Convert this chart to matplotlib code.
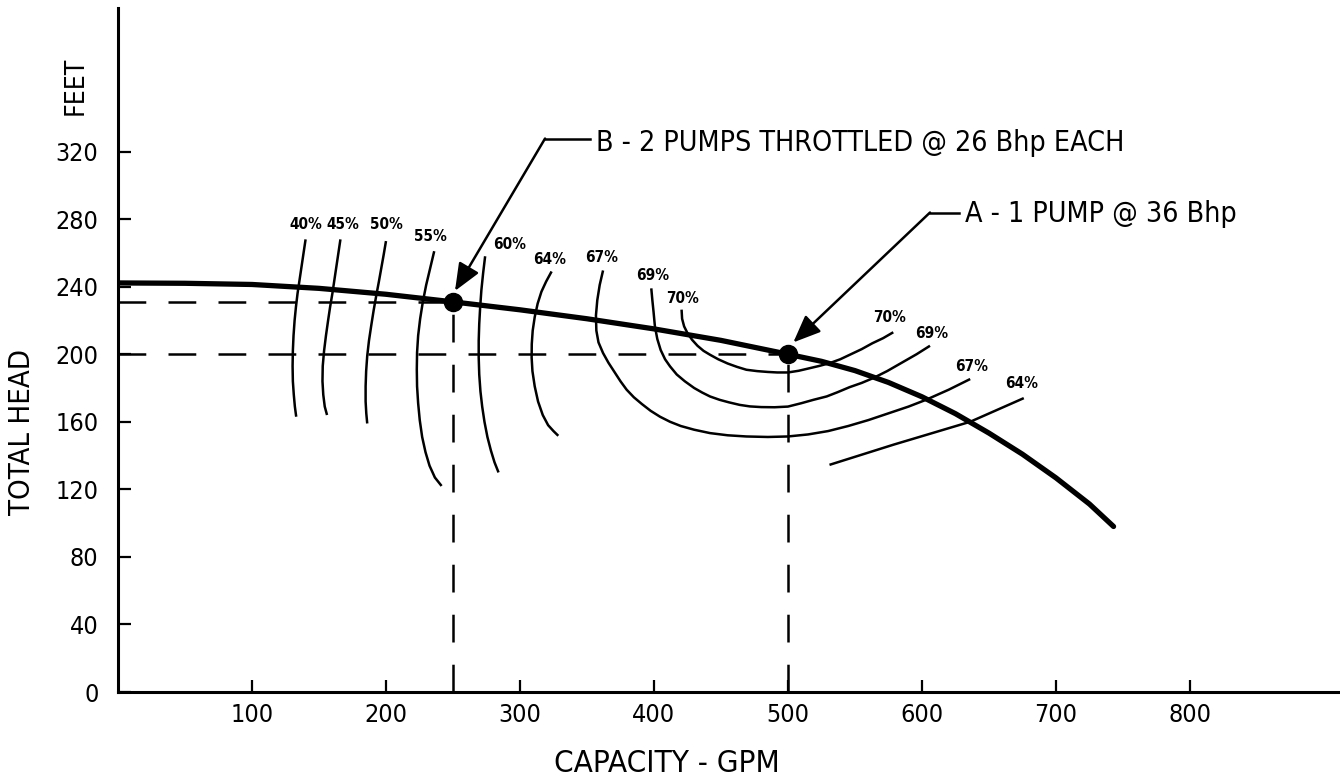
import matplotlib.pyplot as plt

plt.rcParams['lines.scale_dashes'] = False
plt.rcParams['font.family'] = ['DejaVu Sans']
plt.rcParams['font.stretch'] = 'condensed'

# pump head curve
capacity = [0, 50, 100, 150, 200, 250, 300, 350, 400, 450, 500, 525, 550, 575, 600, 625,
            650, 675, 700, 725, 743]
total_head = [242.2, 242, 241.3, 239, 235.5, 231, 226.3, 221, 215, 208.2, 200, 195.8,
              190.3, 183.3, 174.8, 164.8, 153.3, 140.8, 126.8, 111.3, 98]

# operating points
point_b = (250, 231)
point_a = (500, 200)

# iso-efficiency curves (capacity, head)
eff_40_x = [140, 138.5, 137, 135.5, 134, 132.8, 131.8, 131, 130.5, 130.3, 130.5, 131.2, 132, 133]
eff_40_y = [268, 260, 252, 244, 236, 228, 220, 211, 202, 193, 184, 176, 169, 163]
eff_45_x = [166, 164.5, 163, 161.5, 160, 158.3, 156.8, 155.2, 153.8, 152.8, 152.6, 153.2,
            154.3, 156]
eff_45_y = [268, 260, 252, 244, 236, 228, 220, 211, 202, 193, 184, 176, 169, 164]
eff_50_x = [200, 198.3, 196.5, 194.7, 192.8, 190.8, 189, 187.3, 186, 185.2, 184.8, 184.8,
            185.3, 186]
eff_50_y = [267, 259, 251, 243, 235, 226, 217, 208, 199, 190, 181, 172, 165, 159]
eff_55_x = [236, 233, 230, 227.5, 225.5, 224, 223.2, 223, 223.2, 224, 225.2, 227, 229.5,
            232.5, 236.5, 241.5]
eff_55_y = [261, 251, 241, 231, 221, 211, 201, 191, 181, 171, 161, 151, 142, 134, 127, 122]
eff_60_x = [274, 272.5, 271.2, 270.3, 269.6, 269.2, 269.2, 269.6, 270.5, 271.8, 273.5,
            275.7, 278.3, 281, 284]
eff_60_y = [258, 248, 238, 228, 218, 208, 198, 188, 178, 169, 160, 151, 143, 136, 130]
eff_64_x = [323.6, 319.5, 316, 313.2, 311, 309.5, 308.8, 308.7, 309.3, 311, 313.5, 317,
            321, 325, 328.6]
eff_64_y = [249, 243, 237, 230, 222, 214, 206, 198, 190, 181, 172, 164, 158, 154.5, 151.7]
eff_67_x = [362, 359.5, 357.7, 356.7, 357, 358.6, 362, 366, 370.5, 375, 379.6, 385, 391,
            397.5, 404.5, 412, 420, 430, 441.8, 455, 469, 485, 500, 515, 530, 545, 560,
            575, 590, 603, 620, 636]
eff_67_y = [249.6, 241, 232, 223, 214, 207, 200.7, 195, 189.5, 184, 179, 174.5, 170.5,
            166.5, 163, 160, 157.5, 155.3, 153.3, 152, 151.3, 151, 151.3, 152.5, 154.5,
            157.5, 161, 165, 169, 173, 179, 185.3]
eff_69_x = [398, 398.8, 399.7, 400.7, 402.5, 405, 408.3, 412, 417, 423, 430, 436, 441.8,
            449, 456, 464, 471.6, 480, 490, 500, 510, 519, 528.9, 537, 546, 555, 563.7,
            574, 585, 596, 606]
eff_69_y = [239, 232, 225, 216.5, 209, 202.5, 197, 192.8, 188, 184, 180, 177.3, 175, 173,
            171.5, 170, 169.1, 168.7, 168.6, 169, 171, 173, 175, 177.5, 180.5, 183, 185.9,
            190, 195, 200, 205]
eff_70_x = [420.6, 421, 422.5, 425, 428.5, 432.5, 437, 441.8, 448, 455, 462, 469, 477, 485,
            492, 500, 508, 515, 523, 531, 539, 547, 555, 563, 571, 578.6]
eff_70_y = [226.4, 221, 216.5, 212.5, 208.5, 205, 202, 199.7, 197, 194.5, 192.5, 190.8, 190,
            189.5, 189.2, 189.2, 190.2, 191.5, 193, 194.7, 197, 200, 203, 206.5, 209.5, 213]
eff_64r_x = [531, 579, 636, 676]
eff_64r_y = [134.5, 146.5, 160, 174]

eff_curves = [(eff_40_x, eff_40_y), (eff_45_x, eff_45_y), (eff_50_x, eff_50_y),
              (eff_55_x, eff_55_y), (eff_60_x, eff_60_y), (eff_64_x, eff_64_y),
              (eff_67_x, eff_67_y), (eff_69_x, eff_69_y), (eff_70_x, eff_70_y),
              (eff_64r_x, eff_64r_y)]

eff_labels = ['40%', '45%', '50%', '55%', '60%', '64%', '67%', '69%', '70%',
              '70%', '69%', '67%', '64%']
eff_label_x = [140, 167.5, 200.4, 233, 292.5, 322.4, 361, 399, 421, 575.7, 607, 637, 674.6]
eff_label_y = [276.7, 276.7, 276.7, 269.6, 264.9, 256.3, 257, 246.5, 232.9, 221.6, 212,
               192.8, 182.8]

x_ticks = [100, 200, 300, 400, 500, 600, 700, 800]
y_ticks = [0, 40, 80, 120, 160, 200, 240, 280, 320]

fig = plt.figure(figsize=(13.4, 7.81), dpi=100)
ax = fig.add_axes([118 / 1340, 89 / 781, 1222 / 1340, 684 / 781])
ax.set_xlim(0, 912)
ax.set_ylim(0, 405)

for s in ['top', 'right']:
    ax.spines[s].set_visible(False)
for s in ['left', 'bottom']:
    ax.spines[s].set_linewidth(2.2)

ax.set_xticks(x_ticks)
ax.set_yticks(y_ticks)
ax.tick_params(direction='in', length=9, width=1.6, labelsize=18, color='black')
ax.tick_params(axis='x', pad=8)
ax.tick_params(axis='y', pad=14)

# dashed guides to the operating points
dash = (0, (20, 16))
ax.plot([0, point_b[0]], [point_b[1], point_b[1]], color='black', lw=1.8, linestyle=dash)
ax.plot([point_b[0], point_b[0]], [0, point_b[1]], color='black', lw=1.8, linestyle=dash)
ax.plot([0, point_a[0]], [point_a[1], point_a[1]], color='black', lw=1.8, linestyle=dash)
ax.plot([point_a[0], point_a[0]], [0, point_a[1]], color='black', lw=1.8, linestyle=dash)

for cx, cy in eff_curves:
    ax.plot(cx, cy, color='black', lw=1.8, solid_capstyle='butt')

for lab, lx, ly in zip(eff_labels, eff_label_x, eff_label_y):
    ax.text(lx, ly, lab, ha='center', va='center', fontsize=11, fontweight='bold')

ax.plot(capacity, total_head, color='black', lw=3.8, solid_capstyle='round')
ax.plot([point_b[0], point_a[0]], [point_b[1], point_a[1]], 'o', color='black', ms=13)

# leaders
ax.plot([318.7, 352], [327.7, 327.7], color='black', lw=1.8)
ax.annotate('', xy=(251.5, 237.5), xytext=(318.7, 327.7),
            arrowprops=dict(arrowstyle='-|>,head_length=0.6,head_width=0.25', color='black',
                            lw=1.8, mutation_scale=28, shrinkA=0, shrinkB=0))
ax.text(357, 325, 'B - 2 PUMPS THROTTLED @ 26 Bhp EACH', ha='left', va='center', fontsize=20.5)

ax.plot([606, 628], [283.9, 283.9], color='black', lw=1.8)
ax.annotate('', xy=(504, 207), xytext=(606, 283.9),
            arrowprops=dict(arrowstyle='-|>,head_length=0.6,head_width=0.25', color='black',
                            lw=1.8, mutation_scale=28, shrinkA=0, shrinkB=0))
ax.text(632, 283, 'A - 1 PUMP @ 36 Bhp', ha='left', va='center', fontsize=20.5)

fig.text(667 / 1340, 1 - 763 / 781, 'CAPACITY - GPM', ha='center', va='center', fontsize=22.5)
fig.text(22 / 1340, 1 - 432 / 781, 'TOTAL HEAD', ha='center', va='center', fontsize=21,
         rotation=90)
fig.text(76 / 1340, 1 - 86 / 781, 'FEET', ha='center', va='center', fontsize=19, rotation=90)

fig.savefig('out.png', dpi=100)
